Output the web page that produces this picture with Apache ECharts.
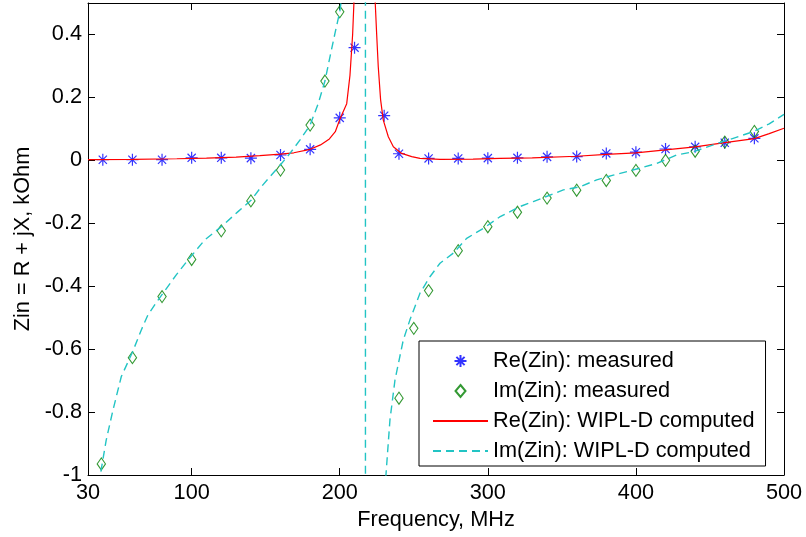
<!DOCTYPE html>
<html>
<head>
<meta charset="utf-8">
<script src="https://cdn.jsdelivr.net/npm/echarts@6/dist/echarts.min.js"></script>
<style>
html,body{margin:0;padding:0;background:#fff;}
#chart{width:806px;height:537px;}
</style>
</head>
<body>
<div id="chart"></div>
<script>
// ---- Data ----
const xTicks = [30, 100, 200, 300, 400, 500];
const yTicks = [-1, -0.8, -0.6, -0.4, -0.2, 0, 0.2, 0.4];

// Re(Zin): measured (kOhm)
const reMeasFreq = [40, 60, 80, 100, 120, 140, 160, 180, 200, 210, 230, 240, 260, 280, 300, 320, 340, 360, 380, 400, 420, 440, 460, 480];
const reMeasVal  = [0.002, 0.002, 0.002, 0.008, 0.008, 0.007, 0.017, 0.035, 0.135, 0.358, 0.142, 0.021, 0.006, 0.006, 0.007, 0.008, 0.011, 0.012, 0.022, 0.026, 0.036, 0.043, 0.056, 0.070];

// Im(Zin): measured (kOhm)
const imMeasFreq = [39, 60, 80, 100, 120, 140, 160, 180, 190, 200, 240, 250, 260, 280, 300, 320, 340, 360, 380, 400, 420, 440, 460, 480];
const imMeasVal  = [-0.965, -0.627, -0.433, -0.315, -0.224, -0.129, -0.031, 0.112, 0.252, 0.472, -0.756, -0.534, -0.414, -0.287, -0.211, -0.165, -0.120, -0.095, -0.064, -0.032, 0.000, 0.029, 0.058, 0.092];

// Re(Zin): WIPL-D computed
const reCompFreq = [30, 60, 90, 110, 130, 146, 160, 169, 180, 187, 193, 197, 200, 204.7, 206.9, 208.7, 210, 212, 214, 216, 217.5, 219, 221, 223, 224.9, 226, 227.6, 229.4, 232.8, 236.2, 241.8, 248.6, 254.2, 267.7, 290, 308, 330, 360, 380, 400, 420, 440, 460, 480, 490, 500];
const reCompVal  = [0.002, 0.003, 0.005, 0.007, 0.010, 0.015, 0.020, 0.024, 0.035, 0.049, 0.068, 0.091, 0.130, 0.180, 0.270, 0.400, 0.550, 0.900, 1.600, 2.600, 3.000, 2.600, 1.500, 0.600, 0.404, 0.298, 0.192, 0.128, 0.075, 0.043, 0.022, 0.012, 0.006, 0.003, 0.004, 0.006, 0.008, 0.013, 0.019, 0.024, 0.033, 0.043, 0.056, 0.069, 0.085, 0.102];

// Im(Zin): WIPL-D computed
const imCompFreq = [30, 35, 38.3, 42.3, 46.9, 52.5, 60, 66, 70.5, 77.3, 89.6, 97.5, 108.8, 120, 131.3, 140.3, 147, 152.9, 160, 166.4, 173.2, 180, 185.5, 190, 193.4, 196.8, 200, 202, 205, 208, 211, 214, 216, 217.3, 217.4, 219, 222, 226, 229, 231.2, 233.9, 237.3, 242.9, 247.4, 254.2, 260.9, 267.7, 276.7, 285.7, 297, 308, 321.7, 330.7, 351, 362.2, 373.5, 384.7, 402.7, 414, 427.5, 438.7, 452.2, 465.7, 479.2, 490, 500];
const imCompVal  = [-1.40, -1.12, -1.000, -0.889, -0.793, -0.687, -0.610, -0.539, -0.491, -0.444, -0.364, -0.317, -0.253, -0.211, -0.163, -0.126, -0.084, -0.052, -0.014, 0.022, 0.065, 0.112, 0.181, 0.252, 0.329, 0.404, 0.472, 0.54, 0.68, 0.90, 1.30, 2.20, 4.0, 12.0, -12.0, -5.0, -2.8, -1.7, -1.2, -1.000, -0.825, -0.698, -0.571, -0.507, -0.422, -0.370, -0.327, -0.295, -0.248, -0.216, -0.180, -0.147, -0.131, -0.094, -0.084, -0.062, -0.047, -0.025, -0.010, 0.017, 0.027, 0.049, 0.070, 0.091, 0.116, 0.146];

const zip = (xs, ys) => xs.map((x, i) => [x, ys[i]]);

const FONT = 'Liberation Sans, Arial, Helvetica, sans-serif';
const FS = 21.7;
const starPath = 'path://M6,0 L6,12 M0,6 L12,6 M1.9,1.9 L10.1,10.1 M1.9,10.1 L10.1,1.9';
const diamondPath = 'path://M5,0 L10,6 L5,12 L0,6 Z';
const hideSym = {color: 'rgba(0,0,0,0)', borderWidth: 0, opacity: 0};

const chart = echarts.init(document.getElementById('chart'), null, {renderer: 'canvas'});

const baseX = {
  type: 'value', min: 30, max: 500,
  axisLine: {show: true, onZero: false, lineStyle: {color: '#000', width: 1}},
  splitLine: {show: false},
};
const baseY = {
  type: 'value', min: -1, max: 0.5,
  axisLine: {show: true, onZero: false, lineStyle: {color: '#000', width: 1}},
  splitLine: {show: false},
};

const option = {
  animation: false,
  backgroundColor: '#fff',
  textStyle: {fontFamily: FONT},
  grid: {left: 88, right: 22, top: 3, bottom: 62, containLabel: false},
  xAxis: [
    Object.assign({}, baseX, {
      position: 'bottom',
      name: 'Frequency, MHz', nameLocation: 'middle', nameGap: 34,
      nameTextStyle: {fontSize: FS, color: '#000', fontFamily: FONT},
      axisTick: {show: true, inside: true, length: 7, customValues: xTicks, lineStyle: {color: '#000'}},
      axisLabel: {show: true, margin: 7, fontSize: FS, color: '#000', fontFamily: FONT, customValues: xTicks}
    }),
    Object.assign({}, baseX, {
      position: 'top',
      axisTick: {show: true, inside: true, length: 7, customValues: xTicks, lineStyle: {color: '#000'}},
      axisLabel: {show: false, customValues: xTicks}
    })
  ],
  yAxis: [
    Object.assign({}, baseY, {
      position: 'left',
      name: 'Zin = R + jX, kOhm', nameLocation: 'middle', nameGap: 54, nameRotate: 90,
      nameTextStyle: {fontSize: FS, color: '#000', fontFamily: FONT},
      axisTick: {show: true, inside: true, length: 7, customValues: yTicks, lineStyle: {color: '#000'}},
      axisLabel: {show: true, margin: 6, fontSize: FS, color: '#000', fontFamily: FONT, customValues: yTicks,
        formatter: v => String(Math.round(v * 10) / 10)}
    }),
    Object.assign({}, baseY, {
      position: 'right',
      axisTick: {show: true, inside: true, length: 7, customValues: yTicks, lineStyle: {color: '#000'}},
      axisLabel: {show: false, customValues: yTicks}
    })
  ],
  legend: {
    orient: 'vertical', left: 419, top: 341,
    padding: [9, 11, 4, 13], itemGap: 8, itemWidth: 55, itemHeight: 12,
    backgroundColor: '#fff', borderColor: '#000', borderWidth: 1,
    textStyle: {fontSize: FS, color: '#000', fontFamily: FONT},
    selectedMode: false, symbolKeepAspect: true,
    data: [
      {name: 'Re(Zin): measured', icon: starPath},
      {name: 'Im(Zin): measured', icon: diamondPath},
      {name: 'Re(Zin): WIPL-D computed', itemStyle: hideSym},
      {name: 'Im(Zin): WIPL-D computed', itemStyle: hideSym}
    ]
  },
  series: [
    {
      name: 'Re(Zin): measured', type: 'scatter', xAxisIndex: 0, yAxisIndex: 0,
      data: zip(reMeasFreq, reMeasVal),
      symbol: starPath, symbolSize: 12, symbolKeepAspect: true,
      itemStyle: {color: 'none', borderColor: '#0000ff', borderWidth: 1.2},
      emphasis: {disabled: true}, z: 2
    },
    {
      name: 'Im(Zin): measured', type: 'scatter', xAxisIndex: 0, yAxisIndex: 0,
      data: zip(imMeasFreq, imMeasVal),
      symbol: diamondPath, symbolSize: [10, 12], symbolKeepAspect: true,
      itemStyle: {color: 'none', borderColor: '#008000', borderWidth: 1.1},
      emphasis: {disabled: true}, z: 2
    },
    {
      name: 'Re(Zin): WIPL-D computed', type: 'line', xAxisIndex: 0, yAxisIndex: 0,
      data: zip(reCompFreq, reCompVal),
      showSymbol: false, symbol: 'none', smooth: false, clip: true,
      lineStyle: {color: '#ff0000', width: 1.2},
      itemStyle: {color: '#ff0000'},
      emphasis: {disabled: true}, z: 3
    },
    {
      name: 'Im(Zin): WIPL-D computed', type: 'line', xAxisIndex: 0, yAxisIndex: 0,
      data: zip(imCompFreq, imCompVal),
      showSymbol: false, symbol: 'none', smooth: false, clip: true,
      lineStyle: {color: '#22c4c4', width: 1.4, type: [8, 5]},
      itemStyle: {color: '#22c4c4'},
      emphasis: {disabled: true}, z: 3
    }
  ]
};
chart.setOption(option);
</script>
</body>
</html>
